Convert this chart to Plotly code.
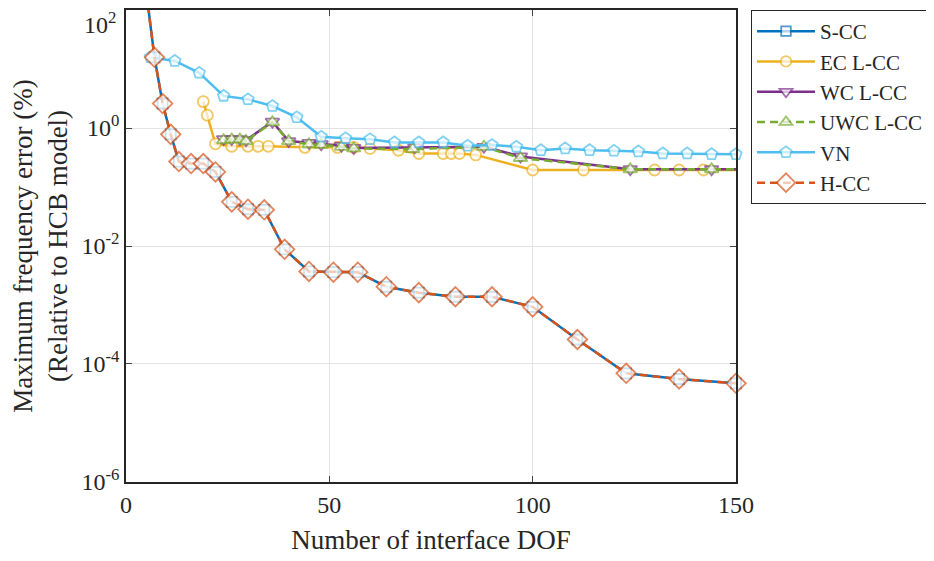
import plotly.graph_objects as go

# ---- data ----
scc_x = [5, 7, 9, 11, 13, 16, 19, 22, 26, 30, 34, 39, 45, 51, 57, 64, 72, 81, 90, 100, 111, 123, 136, 150]
scc_y = [200, 15.8, 2.6, 0.78, 0.27, 0.25, 0.25, 0.18, 0.056, 0.042, 0.041, 0.0088, 0.0037, 0.0036, 0.0036,
         0.00204, 0.00162, 0.00138, 0.00138, 0.00093, 0.00026, 6.95e-5, 5.57e-5, 4.7e-5]
hcc_x = scc_x
hcc_y = scc_y

ec_x = [19, 20, 22, 26, 30, 32.5, 35, 44, 52, 56, 60, 67, 72, 78, 80, 82, 86, 100, 112.5, 130, 136, 142, 156]
ec_y = [2.8, 1.65, 0.54, 0.49, 0.49, 0.49, 0.49, 0.47, 0.47, 0.47, 0.45, 0.42, 0.37, 0.37, 0.37, 0.37, 0.35,
        0.194, 0.194, 0.194, 0.194, 0.194, 0.194]

wc_x = [24, 26, 28, 29.5, 36, 40, 45, 48, 53, 56, 71, 88, 97, 124, 144, 156]
wc_y = [0.65, 0.65, 0.65, 0.62, 1.28, 0.6, 0.56, 0.53, 0.5, 0.46, 0.47, 0.48, 0.33, 0.2, 0.2, 0.2]

uwc_x = [24, 26, 28, 29.5, 36, 40, 45, 48, 53, 56, 70.5, 88, 97, 124, 144, 156]
uwc_y = [0.62, 0.64, 0.64, 0.6, 1.25, 0.6, 0.53, 0.52, 0.48, 0.45, 0.44, 0.48, 0.31, 0.2, 0.2, 0.2]

vn_x = [6, 12, 18, 24, 30, 36, 42, 48, 54, 60, 66, 72, 78, 84, 90, 96, 102, 108, 114, 120, 126, 132, 138, 144, 150]
vn_y = [15.8, 13.7, 8.6, 3.5, 3.06, 2.36, 1.52, 0.71, 0.67, 0.645, 0.57, 0.57, 0.57, 0.50, 0.515, 0.48, 0.42,
        0.45, 0.42, 0.41, 0.40, 0.37, 0.37, 0.36, 0.36]

y_tickvals = [1e-6, 1e-4, 1e-2, 1, 1e2]
y_ticktext = ["10<sup>-6</sup>", "10<sup>-4</sup>", "10<sup>-2</sup>", "10<sup>0</sup>", ""]
y_top_label = "10<sup>2</sup>"
x_tickvals = [0, 50, 100, 150]

FONT = "Liberation Serif, Times New Roman, serif"


def sizes(xs, base, hide_first=False, hide_last=False):
    s = [base] * len(xs)
    if hide_first:
        s[0] = 0
    if hide_last:
        s[-1] = 0
    return s


fig = go.Figure()
fig.add_trace(go.Scatter(x=scc_x, y=scc_y, name="S-CC", mode="lines+markers",
                         line=dict(color="#0072BD", width=2.5),
                         marker=dict(symbol="square", size=sizes(scc_x, 10, True), color="white",
                                     line=dict(color="#0072BD", width=1.8)),
                         cliponaxis=False))
fig.add_trace(go.Scatter(x=ec_x, y=ec_y, name="EC L-CC", mode="lines+markers",
                         line=dict(color="#EDB120", width=2.5),
                         marker=dict(symbol="circle", size=sizes(ec_x, 11, False, True), color="white",
                                     line=dict(color="#EDB120", width=1.8)),
                         cliponaxis=False))
fig.add_trace(go.Scatter(x=wc_x, y=wc_y, name="WC L-CC", mode="lines+markers",
                         line=dict(color="#7E2F8E", width=2.5),
                         marker=dict(symbol="triangle-down", size=sizes(wc_x, 12, False, True), color="white",
                                     line=dict(color="#7E2F8E", width=1.8)),
                         cliponaxis=False))
fig.add_trace(go.Scatter(x=uwc_x, y=uwc_y, name="UWC L-CC", mode="lines+markers",
                         line=dict(color="#77AC30", width=2.5, dash="8px,5px"),
                         marker=dict(symbol="triangle-up", size=sizes(uwc_x, 12, False, True), color="white",
                                     line=dict(color="#77AC30", width=1.8)),
                         cliponaxis=False))
fig.add_trace(go.Scatter(x=vn_x, y=vn_y, name="VN", mode="lines+markers",
                         line=dict(color="#4DBEEE", width=2.5),
                         marker=dict(symbol="pentagon", size=sizes(vn_x, 12), color="white",
                                     line=dict(color="#4DBEEE", width=1.8)),
                         cliponaxis=False))
fig.add_trace(go.Scatter(x=hcc_x, y=hcc_y, name="H-CC", mode="lines+markers",
                         line=dict(color="#D95319", width=2.5, dash="8px,5px"),
                         marker=dict(symbol="diamond", size=sizes(hcc_x, 15, True), color="white",
                                     line=dict(color="#D95319", width=1.8)),
                         cliponaxis=False))

fig.update_layout(
    width=934, height=561,
    margin=dict(l=118, r=206, t=2, b=87, autoexpand=False),
    plot_bgcolor="white", paper_bgcolor="white",
    font=dict(family=FONT, size=25, color="#262626"),
    legend=dict(x=1.0246, y=1.0, xanchor="left", yanchor="top",
                bordercolor="#262626", borderwidth=1, bgcolor="white",
                font=dict(family=FONT, size=21, color="#262626"),
                itemwidth=58, tracegroupgap=0),
    showlegend=True,
)
fig.add_annotation(text=y_top_label, xref="paper", x=0, xanchor="right", xshift=-8,
                   yref="y", y=2, yanchor="top", yshift=4, showarrow=False,
                   font=dict(family=FONT, size=24, color="#262626"))
fig.update_xaxes(range=[0, 150], tickvals=x_tickvals, ticks="inside", ticklen=6,
                 showline=True, linecolor="#262626", linewidth=1.5, mirror="ticks",
                 showgrid=True, gridcolor="#E3E3E3", gridwidth=1, zeroline=False,
                 title=dict(text="Number of interface DOF", font=dict(family=FONT, size=27), standoff=14),
                 tickfont=dict(family=FONT, size=24))
fig.update_yaxes(type="log", range=[-6.0002, 2.0002], tickvals=y_tickvals, ticktext=y_ticktext,
                 ticks="inside", ticklen=6,
                 showline=True, linecolor="#262626", linewidth=1.5, mirror="ticks",
                 showgrid=True, gridcolor="#E3E3E3", gridwidth=1, zeroline=False,
                 title=dict(text="Maximum frequency error (%)<br>(Relative to HCB model)",
                            font=dict(family=FONT, size=27), standoff=12),
                 tickfont=dict(family=FONT, size=24))

fig.write_html("out.html")
